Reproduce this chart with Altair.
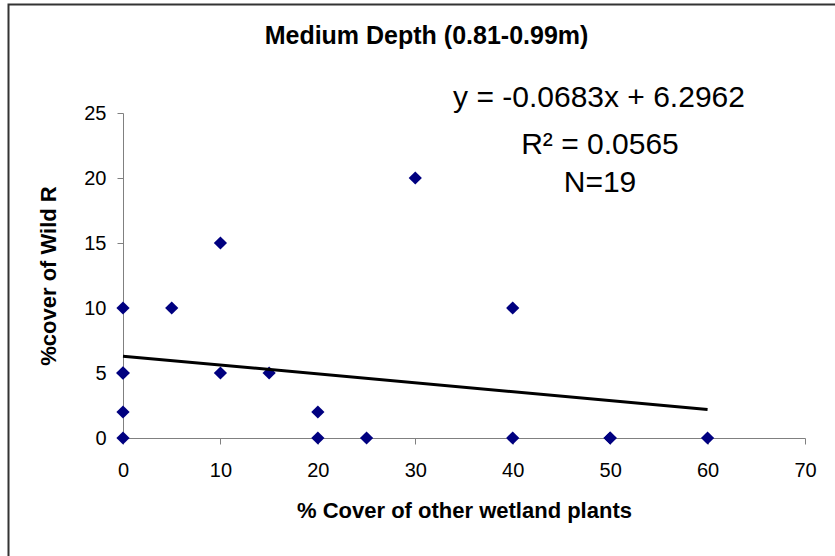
import altair as alt
import pandas as pd

# ---- data ----
x_cover_other = [0, 0, 0, 0, 0, 0, 5, 10, 10, 15, 20, 20, 25, 30, 40, 40, 50, 50, 60]
y_cover_wildr = [0, 2, 5, 5, 5, 10, 10, 15, 5, 5, 2, 0, 0, 20, 10, 0, 0, 0, 0]
x_ticks = [0, 10, 20, 30, 40, 50, 60, 70]
y_ticks = [0, 5, 10, 15, 20, 25]

chart_title = "Medium Depth (0.81-0.99m)"
x_title = "% Cover of other wetland plants"
y_title = "%cover of Wild R"
eq_text = "y = -0.0683x + 6.2962"
r2_text = "R\u00b2 = 0.0565"
n_text = "N=19"

df = pd.DataFrame({"x": x_cover_other, "y": y_cover_wildr})

FONT = "Liberation Sans"

x_enc = alt.X(
    "x:Q",
    scale=alt.Scale(domain=[0, 70], nice=False, zero=False),
    axis=alt.Axis(
        values=x_ticks, title=x_title, labelPadding=16, labelFlush=False,
        labelOverlap=False, titleY=72, titleX=341, titleBaseline="middle",
        titleAlign="center",
    ),
)
y_enc = alt.Y(
    "y:Q",
    scale=alt.Scale(domain=[0, 25], nice=False, zero=False),
    axis=alt.Axis(
        values=y_ticks, title=y_title, labelPadding=11, labelFlush=False,
        labelOverlap=False, titleX=-75, titleY=162.5, titleAngle=270,
        titleBaseline="middle", titleAlign="center",
    ),
)

base = alt.Chart(df)

trend = base.transform_regression("x", "y").mark_line(
    color="black", strokeWidth=3
).encode(x=alt.X("x:Q"), y=alt.Y("y:Q"))

points = base.mark_point(
    shape="diamond", filled=True, size=175, color="#000080", opacity=1
).encode(x=x_enc, y=y_enc)


def label(text, x, y, size, weight="normal"):
    return alt.Chart(pd.DataFrame({"t": [text]})).mark_text(
        font=FONT, fontSize=size, fontWeight=weight, color="black",
        align="center", baseline="alphabetic",
    ).encode(text="t:N", x=alt.value(x), y=alt.value(y))


title_mark = label(chart_title, 303.5, -69, 25, "bold")
eq_mark = label(eq_text, 476, -6, 30)
r2_mark = label(r2_text, 477, 41, 30)
n_mark = label(n_text, 477, 79, 30)

frame = alt.Chart(pd.DataFrame({"a": [0]})).mark_rect(
    fill="transparent", stroke="#333333", strokeWidth=2
).encode(
    x=alt.value(-114.5), y=alt.value(-108.5), x2=alt.value(900), y2=alt.value(700)
)

chart = alt.layer(
    frame, points, trend, title_mark, eq_mark, r2_mark, n_mark
).properties(
    width=682, height=325,
    autosize=alt.AutoSizeParams(type="none"),
    padding={"left": 123, "top": 113, "right": 30, "bottom": 118},
    background="white",
).configure_axis(
    grid=False, domainColor="#808080", tickColor="#808080", domainWidth=1,
    tickWidth=1, tickSize=6, labelColor="black", labelFont=FONT,
    labelFontSize=20, titleFont=FONT, titleFontSize=22, titleFontWeight="bold",
    titleColor="black",
).configure_view(strokeWidth=0)

chart.save("out.html", embed_options={"renderer": "svg", "actions": False})
